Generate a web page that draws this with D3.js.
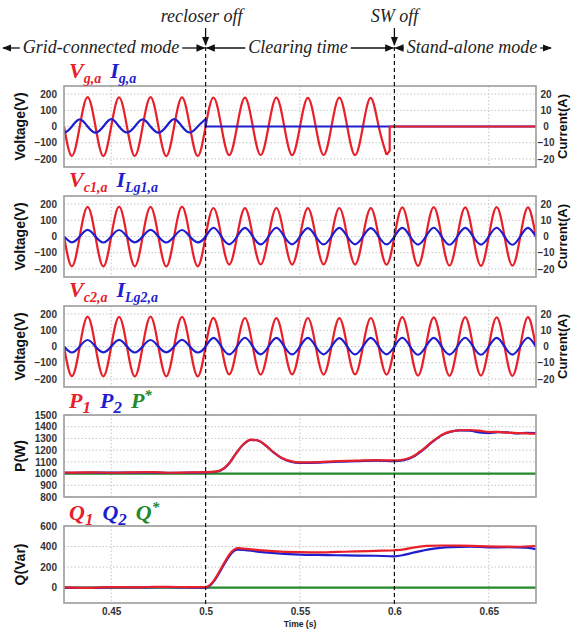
<!DOCTYPE html>
<html><head><meta charset="utf-8">
<script src="https://cdn.jsdelivr.net/npm/d3@7"></script>
<style>body{margin:0;background:#fff}svg{display:block}</style>
</head><body><svg id="c" width="573" height="629"></svg>
<script>
// ---------------- data ----------------
const xDomain = [0.425, 0.675];
const xTicks = [0.45, 0.5, 0.55, 0.6, 0.65];
const xTickLabels = ["0.45", "0.5", "0.55", "0.6", "0.65"];
const voltTicks = [200, 100, 0, -100, -200];
const currTicks = [20, 10, 0, -10, -20];
const pTicks = [1500, 1400, 1300, 1200, 1100, 1000, 900, 800];
const qTicks = [600, 400, 200, 0];
const eventTimes = [0.5, 0.6];

// Waveforms: signed peak values, one per half cycle (60 Hz), first peak time t0
const vgaT0 = 0.42917;
const vgaPeaks = [-182, 181, -183, 180, -182, 181, -183, 180, -182, 179, -177, 178, -176, 178, -177, 177, -176, 178, -177, 177, -175];
const vgaTail = [[0.5975, -150], [0.5975, 0], [0.68, 0]];
const igaT0 = 0.425;
const igaPeaks = [-3.7, 4.4, -3.8, 4.5, -3.7, 4.4, -3.8, 4.5, -3.7, 4.6];
const igaTail = [[0.5, 0], [0.68, 0]];

const vc1T0 = 0.42917;
const vc1Peaks = [-184, 183, -185, 184, -184, 183, -185, 184, -184,
  176, -173, 175, -172, 176, -173, 175, -172, 176, -173, 175, -174,
  180, -181, 181, -180, 180, -181, 181, -180, 180, -181];
const ilg1T0 = 0.42917;
const ilg1Peaks = [-3.6, 4.1, -3.7, 4.0, -3.6, 4.1, -3.7, 4.0, -3.6,
  5.4, -4.8, 5.3, -4.9, 5.4, -4.8, 5.2, -4.9, 5.3, -4.8, 5.2, -4.9,
  5.3, -5.0, 5.4, -5.1, 5.3, -5.0, 5.4, -5.1, 5.3, -5.0];

const vc2T0 = 0.42917;
const vc2Peaks = [-183, 184, -184, 183, -185, 184, -184, 183, -185,
  177, -172, 176, -173, 175, -172, 176, -173, 175, -172, 176, -173,
  181, -180, 180, -181, 181, -180, 180, -181, 181, -180];
const ilg2T0 = 0.42917;
const ilg2Peaks = [-3.7, 4.0, -3.6, 4.1, -3.7, 4.0, -3.6, 4.1, -3.7,
  5.3, -4.9, 5.4, -4.8, 5.3, -4.9, 5.3, -4.8, 5.2, -4.9, 5.3, -4.8,
  5.4, -5.1, 5.3, -5.0, 5.4, -5.1, 5.3, -5.0, 5.4, -5.1];

// Power (W)
const p1 = [[0.425,1008],[0.44,1011],[0.45,1007],[0.46,1010],[0.47,1012],[0.48,1007],[0.49,1009],[0.5,1012],[0.505,1016],[0.508,1028],[0.512,1080],[0.516,1170],[0.52,1250],[0.524,1290],[0.528,1282],[0.532,1238],[0.536,1182],[0.54,1137],[0.545,1106],[0.55,1095],[0.56,1098],[0.57,1107],[0.58,1110],[0.59,1115],[0.6,1112],[0.605,1120],[0.61,1148],[0.615,1205],[0.62,1272],[0.625,1330],[0.63,1360],[0.635,1370],[0.64,1372],[0.645,1366],[0.65,1355],[0.655,1356],[0.66,1349],[0.665,1346],[0.67,1343],[0.675,1340]];
const p2 = [[0.425,1006],[0.44,1009],[0.45,1008],[0.46,1008],[0.47,1010],[0.48,1006],[0.49,1008],[0.5,1010],[0.505,1015],[0.508,1026],[0.512,1078],[0.516,1168],[0.52,1248],[0.524,1288],[0.528,1280],[0.532,1236],[0.536,1180],[0.54,1134],[0.545,1102],[0.55,1091],[0.56,1094],[0.57,1102],[0.58,1106],[0.59,1111],[0.6,1106],[0.605,1115],[0.61,1143],[0.615,1200],[0.62,1268],[0.625,1326],[0.63,1357],[0.635,1368],[0.64,1366],[0.645,1352],[0.65,1346],[0.655,1354],[0.66,1351],[0.665,1342],[0.67,1348],[0.675,1345]];
const pRef = [[0.425,1000],[0.675,1000]];

// Reactive power (Var)
const q1 = [[0.425,3],[0.44,-2],[0.45,5],[0.46,3],[0.47,6],[0.48,8],[0.49,4],[0.5,5],[0.517,385],[0.52,380],[0.53,362],[0.54,350],[0.55,345],[0.56,343],[0.57,348],[0.58,352],[0.59,358],[0.6,364],[0.605,372],[0.61,390],[0.617,407],[0.625,410],[0.635,408],[0.645,404],[0.655,400],[0.665,398],[0.675,405]];
const q2 = [[0.425,0],[0.44,-3],[0.45,2],[0.46,1],[0.47,3],[0.48,4],[0.49,1],[0.5,0],[0.517,370],[0.52,368],[0.53,345],[0.54,330],[0.55,322],[0.56,318],[0.57,315],[0.58,312],[0.59,310],[0.6,305],[0.605,318],[0.61,340],[0.615,360],[0.62,378],[0.63,395],[0.64,400],[0.65,392],[0.66,393],[0.67,390],[0.675,375]];
const qRef = [[0.425,0],[0.675,0]];

// ---------------- drawing ----------------
const RED = "#e8202a", BLUE = "#1e1ecf", GREEN = "#23892b";
const HALF = 1 / 120;
function wave(t0, peaks, leadZero) {
  const pts = [];
  if (leadZero) pts.push([t0 - HALF / 2, 0]);
  peaks.forEach((v, i) => {
    const t = t0 + i * HALF;
    if (i > 0) pts.push([t - HALF / 2, 0]);
    pts.push([t, v]);
  });
  return pts;
}

const svg = d3.select("#c");
const x = d3.scaleLinear().domain(xDomain).range([64, 536]);
const L = 64, R = 536;

const panels = [
  {top: 86, bottom: 167, dom: [-250, 250], ticks: voltTicks, label: "Voltage(V)", right: {dom: [-25, 25], ticks: currTicks, label: "Current(A)"},
   series: [
     {pts: wave(vgaT0, vgaPeaks, true), c: RED, curve: d3.curveNatural},
     {pts: wave(igaT0, igaPeaks, true), c: BLUE, curve: d3.curveNatural, axis: "r"},
     {pts: [[0.5, igaPeaks[igaPeaks.length - 1]]].concat(igaTail), c: BLUE, curve: d3.curveLinear, axis: "r"},
     {pts: [[vgaT0 + (vgaPeaks.length - 1) * HALF, vgaPeaks[vgaPeaks.length - 1]]].concat(vgaTail), c: RED, curve: d3.curveLinear}
   ]},
  {top: 196, bottom: 277, dom: [-250, 250], ticks: voltTicks, label: "Voltage(V)", right: {dom: [-25, 25], ticks: currTicks, label: "Current(A)"},
   series: [
     {pts: wave(vc1T0, vc1Peaks, true), c: RED, curve: d3.curveNatural},
     {pts: wave(ilg1T0, ilg1Peaks, true), c: BLUE, curve: d3.curveNatural, axis: "r"}
   ]},
  {top: 306, bottom: 387, dom: [-250, 250], ticks: voltTicks, label: "Voltage(V)", right: {dom: [-25, 25], ticks: currTicks, label: "Current(A)"},
   series: [
     {pts: wave(vc2T0, vc2Peaks, true), c: RED, curve: d3.curveNatural},
     {pts: wave(ilg2T0, ilg2Peaks, true), c: BLUE, curve: d3.curveNatural, axis: "r"}
   ]},
  {top: 415, bottom: 497, dom: [800, 1500], ticks: pTicks, label: "P(W)",
   series: [
     {pts: pRef, c: GREEN, curve: d3.curveLinear},
     {pts: p2, c: BLUE, curve: d3.curveMonotoneX},
     {pts: p1, c: RED, curve: d3.curveMonotoneX}
   ]},
  {top: 526, bottom: 603, dom: [-150, 600], ticks: qTicks, label: "Q(Var)",
   series: [
     {pts: qRef, c: GREEN, curve: d3.curveLinear},
     {pts: q2, c: BLUE, curve: d3.curveMonotoneX},
     {pts: q1, c: RED, curve: d3.curveMonotoneX}
   ]}
];

const defs = svg.append("defs");
panels.forEach((p, i) => {
  defs.append("clipPath").attr("id", "clip" + i).append("rect")
    .attr("x", L).attr("y", p.top).attr("width", R - L).attr("height", p.bottom - p.top);
  const y = d3.scaleLinear().domain(p.dom).range([p.bottom, p.top]);
  const yr = p.right ? d3.scaleLinear().domain(p.right.dom).range([p.bottom, p.top]) : null;
  const g = svg.append("g");
  // grid
  g.selectAll(".hg").data(p.ticks).join("line")
    .attr("x1", L).attr("x2", R).attr("y1", d => y(d)).attr("y2", d => y(d))
    .attr("stroke", "#c4c4c4").attr("stroke-dasharray", "1.5,2");
  g.selectAll(".vg").data(xTicks).join("line")
    .attr("x1", d => x(d)).attr("x2", d => x(d)).attr("y1", p.top).attr("y2", p.bottom)
    .attr("stroke", "#c4c4c4").attr("stroke-dasharray", "1.5,2");
  // series
  const cg = g.append("g").attr("clip-path", `url(#clip${i})`);
  p.series.forEach(s => {
    const sy = s.axis === "r" ? yr : y;
    cg.append("path").datum(s.pts)
      .attr("d", d3.line().x(d => x(d[0])).y(d => sy(d[1])).curve(s.curve))
      .attr("fill", "none").attr("stroke", s.c).attr("stroke-width", 2.2)
      .attr("stroke-linejoin", "round");
  });
  // frame
  g.append("rect").attr("x", L).attr("y", p.top).attr("width", R - L).attr("height", p.bottom - p.top)
    .attr("fill", "none").attr("stroke", "#9c9c9c").attr("stroke-width", 1.6);
  // left axis
  const ax = g.append("g").attr("transform", `translate(${L},0)`)
    .call(d3.axisLeft(y).tickValues(p.ticks).tickSize(0).tickPadding(7).tickFormat(d3.format("d")));
  ax.select(".domain").remove();
  ax.selectAll("text").attr("font-family", "Liberation Sans, Arial, sans-serif").attr("font-weight", "bold")
    .attr("font-size", 10).attr("fill", "#333");
  g.append("text").attr("transform", `translate(${25},${(p.top + p.bottom) / 2}) rotate(-90)`)
    .attr("text-anchor", "middle").attr("font-family", "Liberation Sans, Arial, sans-serif")
    .attr("font-weight", "bold").attr("font-size", 14).attr("fill", "#111").text(p.label);
  if (p.right) {
    const axr = g.append("g").attr("transform", `translate(${R},0)`)
      .call(d3.axisRight(yr).tickValues(p.right.ticks).tickSize(0).tickPadding(10).tickFormat(d3.format("d")));
    axr.select(".domain").remove();
    axr.selectAll("text").attr("text-anchor", "middle").attr("font-family", "Liberation Sans, Arial, sans-serif")
      .attr("font-weight", "bold").attr("font-size", 10).attr("fill", "#333");
    g.append("text").attr("transform", `translate(${567},${(p.top + p.bottom) / 2}) rotate(-90)`)
      .attr("text-anchor", "middle").attr("font-family", "Liberation Sans, Arial, sans-serif")
      .attr("font-weight", "bold").attr("font-size", 13).attr("fill", "#111").text(p.right.label);
  }
  if (i === panels.length - 1) {
    const xa = g.append("g").attr("transform", `translate(0,${p.bottom})`)
      .call(d3.axisBottom(x).tickValues(xTicks).tickSize(0).tickPadding(5).tickFormat((d, k) => xTickLabels[k]));
    xa.select(".domain").remove();
    xa.selectAll("text").attr("font-family", "Liberation Sans, Arial, sans-serif").attr("font-weight", "bold")
      .attr("font-size", 10).attr("fill", "#333");
    g.append("text").attr("x", x(0.55)).attr("y", 627).attr("text-anchor", "middle")
      .attr("font-family", "Liberation Sans, Arial, sans-serif").attr("font-weight", "bold")
      .attr("font-size", 8.5).attr("fill", "#222").text("Time (s)");
  }
});

// panel titles
const titles = [
  {y: 78, items: [["V", "g,a", RED], ["I", "g,a", BLUE]]},
  {y: 187, items: [["V", "c1,a", RED], ["I", "Lg1,a", BLUE]]},
  {y: 297, items: [["V", "c2,a", RED], ["I", "Lg2,a", BLUE]]},
  {y: 408, items: [["P", "1", RED], ["P", "2", BLUE], ["P", "*", GREEN, true]]},
  {y: 520, items: [["Q", "1", RED], ["Q", "2", BLUE], ["Q", "*", GREEN, true]]}
];
titles.forEach(t => {
  const tx = svg.append("text").attr("x", 69).attr("y", t.y)
    .attr("font-family", "Liberation Serif, Times New Roman, serif").attr("font-weight", "bold")
    .attr("font-style", "italic");
  t.items.forEach((it, k) => {
    tx.append("tspan").attr("fill", it[2]).attr("font-size", 22)
      .attr("dx", k ? 9 : 0).attr("dy", k ? -5 : 0).text(it[0]);
    if (it[3]) {
      tx.append("tspan").attr("fill", it[2]).attr("font-size", 15).attr("dy", -8).text(it[1]);
      tx.append("tspan").attr("dy", 13).text("");
    } else {
      tx.append("tspan").attr("fill", it[2]).attr("font-size", it[1].length > 2 ? 14 : 17)
        .attr("dy", 5).text(it[1]);
    }
  });
});

// event lines and annotations
const ann = svg.append("g");
defs.append("marker").attr("id", "ah").attr("viewBox", "0 0 10 10").attr("refX", 9).attr("refY", 5)
  .attr("markerWidth", 7).attr("markerHeight", 7).attr("orient", "auto-start-reverse")
  .append("path").attr("d", "M0,1 L10,5 L0,9 Z").attr("fill", "#111");
eventTimes.forEach(t => {
  ann.append("line").attr("x1", x(t)).attr("x2", x(t)).attr("y1", 47).attr("y2", 606)
    .attr("stroke", "#111").attr("stroke-width", 1.2).attr("stroke-dasharray", "4,3");
  ann.append("line").attr("x1", x(t)).attr("x2", x(t)).attr("y1", 28).attr("y2", 45)
    .attr("stroke", "#111").attr("stroke-width", 1.3).attr("marker-end", "url(#ah)");
});
const serif = "Liberation Serif, Cambria, serif";
ann.append("text").attr("x", x(0.5) - 4).attr("y", 22).attr("text-anchor", "middle")
  .attr("font-family", serif).attr("font-style", "italic").attr("font-size", 18).attr("fill", "#222").text("recloser  off");
ann.append("text").attr("x", x(0.6)).attr("y", 22).attr("text-anchor", "middle")
  .attr("font-family", serif).attr("font-style", "italic").attr("font-size", 18).attr("fill", "#222").text("SW off");

const rowY = 48;
const modes = [
  {text: "Grid-connected mode", x0: 3, x1: x(0.5) - 1, tx: 101},
  {text: "Clearing time", x0: x(0.5) + 1, x1: x(0.6) - 1, tx: 298},
  {text: "Stand-alone mode", x0: x(0.6) + 1, x1: 551, tx: 472}
];
modes.forEach(m => {
  const tt = ann.append("text").attr("x", m.tx).attr("y", rowY + 5).attr("text-anchor", "middle")
    .attr("font-family", serif).attr("font-style", "italic").attr("font-size", 18).attr("fill", "#222").text(m.text);
  const w = tt.node().getComputedTextLength();
  ann.append("line").attr("x1", m.tx - w / 2 - 3).attr("x2", m.x0).attr("y1", rowY).attr("y2", rowY)
    .attr("stroke", "#111").attr("stroke-width", 1.3).attr("marker-end", "url(#ah)");
  ann.append("line").attr("x1", m.tx + w / 2 + 3).attr("x2", m.x1).attr("y1", rowY).attr("y2", rowY)
    .attr("stroke", "#111").attr("stroke-width", 1.3).attr("marker-end", "url(#ah)");
});
</script></body></html>
